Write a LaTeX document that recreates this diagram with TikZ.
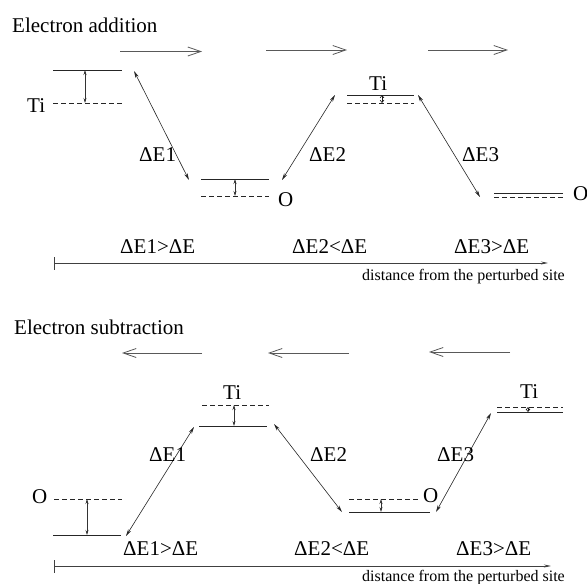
\documentclass[tikz,border=0pt]{standalone}
\usepackage{fontspec}
\setmainfont{Liberation Serif}
\usetikzlibrary{arrows.meta}
\begin{document}
\begin{tikzpicture}[x=1pt,y=-1pt,
  txt/.style={inner sep=0pt, anchor=base west, font=\fontsize{21}{25}\selectfont},
  small/.style={inner sep=0pt, anchor=base east, font=\fontsize{16}{19}\selectfont},
  level/.style={line width=0.8pt, draw=black!85},
  dlevel/.style={line width=0.6pt, draw=black!85, dash pattern=on 4.5pt off 3.5pt},
  big/.style={line width=1pt, draw=black!65, -{Straight Barb[length=13pt,width=9pt,line width=0.8pt]}},
  gaparrow/.style={line width=0.6pt, draw=black!80, {Stealth[length=5pt,width=3pt]}-{Stealth[length=5pt,width=3pt]}},
  tinyarrow/.style={line width=0.6pt, draw=black!90, {Straight Barb[length=2.5pt,width=4pt,line width=0.6pt]}-{Straight Barb[length=2.5pt,width=4pt,line width=0.6pt]}},
  trans/.style={line width=0.6pt, draw=black!85, {Stealth[length=7pt,width=3.5pt]}-{Stealth[length=7pt,width=3.5pt]}},
  axisline/.style={line width=0.7pt, draw=black!75, {Bar[width=13pt]}-{Stealth[length=7pt,width=3pt]}},
]
\path[use as bounding box] (0,0) rectangle (587,584);

% ================= Electron addition =================
\node[txt] (title1) at (12,32.5) {Electron addition};

\coordinate (ta1s) at (120,51.5); \coordinate (ta1e) at (202,51.5);
\coordinate (ta2s) at (266,50);   \coordinate (ta2e) at (347,50);
\coordinate (ta3s) at (428,50);   \coordinate (ta3e) at (508,50);
\draw[big] (ta1s) -- (ta1e);
\draw[big] (ta2s) -- (ta2e);
\draw[big] (ta3s) -- (ta3e);

% Ti (left)
\coordinate (tiAsL) at (53,70);  \coordinate (tiAsR) at (122,70);
\coordinate (tiAdL) at (53,103); \coordinate (tiAdR) at (122,103);
\draw[level] (tiAsL) -- (tiAsR);
\draw[dlevel] (tiAdL) -- (tiAdR);
\coordinate (gA1) at (85,70); \coordinate (gA2) at (85,103);
\draw[gaparrow] (gA1) -- (gA2);
\node[txt] (tiA) at (27,112.5) {Ti};

% O (middle)
\coordinate (oAsL) at (201,179); \coordinate (oAsR) at (269,179);
\coordinate (oAdL) at (201,196); \coordinate (oAdR) at (269,196);
\draw[level] (oAsL) -- (oAsR);
\draw[dlevel] (oAdL) -- (oAdR);
\coordinate (gB1) at (235,179); \coordinate (gB2) at (235,196);
\draw[gaparrow] (gB1) -- (gB2);
\node[txt] (oA) at (278,206) {O};

% Ti (right)
\coordinate (tiBsL) at (347,95);  \coordinate (tiBsR) at (414,95);
\coordinate (tiBdL) at (347,103); \coordinate (tiBdR) at (414,103);
\draw[level] (tiBsL) -- (tiBsR);
\draw[dlevel] (tiBdL) -- (tiBdR);
\coordinate (gC1) at (382,95); \coordinate (gC2) at (382,103);
\draw[tinyarrow] (gC1) -- (gC2);
\node[txt] (tiB) at (369,90.5) {Ti};

% O (right)
\coordinate (oBsL) at (494,193); \coordinate (oBsR) at (563,193);
\coordinate (oBdL) at (494,197); \coordinate (oBdR) at (563,197);
\draw[level] (oBsL) -- (oBsR);
\draw[dlevel] (oBdL) -- (oBdR);
\node[txt] (oB) at (573,200.5) {O};

% transitions
\coordinate (e1a) at (134,71);  \coordinate (e1b) at (189,180);
\coordinate (e2a) at (335,95);  \coordinate (e2b) at (282,180);
\coordinate (e3a) at (418,95);  \coordinate (e3b) at (480,197);
\draw[trans] (e1a) -- (e1b);
\draw[trans] (e2a) -- (e2b);
\draw[trans] (e3a) -- (e3b);
\node[txt] (lE1) at (139,161.5) {ΔE1};
\node[txt] (lE2) at (309,161) {ΔE2};
\node[txt] (lE3) at (462,161) {ΔE3};

\node[txt] (c1) at (120,253.3) {ΔE1>ΔE};
\node[txt] (c2) at (292,253.3) {ΔE2<ΔE};
\node[txt] (c3) at (454,253.3) {ΔE3>ΔE};

\coordinate (ax1s) at (54,263); \coordinate (ax1e) at (548,263);
\draw[axisline] (ax1s) -- (ax1e);
\node[small] (d1) at (565,280) {distance from the perturbed site};

% ================= Electron subtraction =================
\node[txt] (title2) at (14,334) {Electron subtraction};

\coordinate (sa1s) at (202,353); \coordinate (sa1e) at (122,353);
\coordinate (sa2s) at (349,353); \coordinate (sa2e) at (268,353);
\coordinate (sa3s) at (510,352); \coordinate (sa3e) at (429,352);
\draw[big] (sa1s) -- (sa1e);
\draw[big] (sa2s) -- (sa2e);
\draw[big] (sa3s) -- (sa3e);

% O (left)
\coordinate (oCdL) at (54,499);  \coordinate (oCdR) at (122,499);
\coordinate (oCsL) at (53,535);  \coordinate (oCsR) at (121,535);
\draw[dlevel] (oCdL) -- (oCdR);
\draw[level] (oCsL) -- (oCsR);
\coordinate (gD1) at (87,499); \coordinate (gD2) at (87,535);
\draw[gaparrow] (gD1) -- (gD2);
\node[txt] (oC) at (32,503) {O};

% Ti (middle)
\coordinate (tiCdL) at (202,405); \coordinate (tiCdR) at (269,405);
\coordinate (tiCsL) at (199,426); \coordinate (tiCsR) at (267,426);
\draw[dlevel] (tiCdL) -- (tiCdR);
\draw[level] (tiCsL) -- (tiCsR);
\coordinate (gE1) at (234,405); \coordinate (gE2) at (234,426);
\draw[gaparrow] (gE1) -- (gE2);
\node[txt] (tiC) at (223,399) {Ti};

% O (middle)
\coordinate (oDdL) at (349,499); \coordinate (oDdR) at (418,499);
\coordinate (oDsL) at (349,512); \coordinate (oDsR) at (430,512);
\draw[dlevel] (oDdL) -- (oDdR);
\draw[level] (oDsL) -- (oDsR);
\coordinate (gF1) at (381,499); \coordinate (gF2) at (381,512);
\draw[gaparrow] (gF1) -- (gF2);
\node[txt] (oD) at (423,502) {O};

% Ti (right)
\coordinate (tiDdL) at (497,407); \coordinate (tiDdR) at (563,407);
\coordinate (tiDsL) at (497,412); \coordinate (tiDsR) at (563,412);
\draw[dlevel] (tiDdL) -- (tiDdR);
\draw[level] (tiDsL) -- (tiDsR);
\coordinate (gG1) at (528,407); \coordinate (gG2) at (528,412);
\draw[tinyarrow] (gG1) -- (gG2);
\node[txt] (tiD) at (520,398) {Ti};

% transitions
\coordinate (f1a) at (194,427); \coordinate (f1b) at (126,536);
\coordinate (f2a) at (274,424); \coordinate (f2b) at (342,512);
\coordinate (f3a) at (491,413); \coordinate (f3b) at (436,512);
\draw[trans] (f1a) -- (f1b);
\draw[trans] (f2a) -- (f2b);
\draw[trans] (f3a) -- (f3b);
\node[txt] (mE1) at (149,461.7) {ΔE1};
\node[txt] (mE2) at (310,461.7) {ΔE2};
\node[txt] (mE3) at (437,461.7) {ΔE3};

\node[txt] (k1) at (123,555) {ΔE1>ΔE};
\node[txt] (k2) at (294,555) {ΔE2<ΔE};
\node[txt] (k3) at (456,555) {ΔE3>ΔE};

\coordinate (ax2s) at (54,566); \coordinate (ax2e) at (551,566);
\draw[axisline] (ax2s) -- (ax2e);
\node[small] (d2) at (565,581) {distance from the perturbed site};
\end{tikzpicture}
\end{document}
